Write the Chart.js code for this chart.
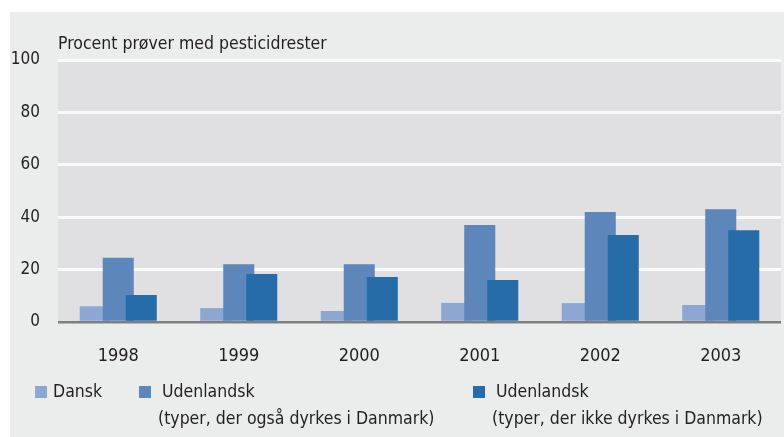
<!DOCTYPE html>
<html>
<head>
<meta charset="utf-8">
<script src="https://cdn.jsdelivr.net/npm/chart.js@4/dist/chart.umd.min.js"></script>
<style>
  body { margin: 0; background: #fff; }
  #wrap { position: relative; width: 784px; height: 437px; font-family: 'Liberation Sans Narrow', 'DejaVu Sans Condensed', sans-serif; color: #231f20; }
  #wrap canvas { position: absolute; left: 0; top: 0; }
  .txt { position: absolute; font-size: 17.5px; line-height: 20px; white-space: nowrap; }
  .sq { position: absolute; width: 12px; height: 12px; }
</style>
</head>
<body>
<div id="wrap">
  <canvas id="chart" width="784" height="437"></canvas>
  <div class="txt" style="left:58px; top:33px;">Procent prøver med pesticidrester</div>

  <div class="sq" style="left:35px; top:386px; background:#8ca7d1;"></div>
  <div class="txt" style="left:53px; top:381px;">Dansk</div>

  <div class="sq" style="left:139px; top:386px; background:#5d87bb;"></div>
  <div class="txt" style="left:162px; top:381px;">Udenlandsk</div>
  <div class="txt" style="left:158px; top:408px;">(typer, der også dyrkes i Danmark)</div>

  <div class="sq" style="left:473px; top:386px; background:#266ca8;"></div>
  <div class="txt" style="left:496px; top:381px;">Udenlandsk</div>
  <div class="txt" style="left:492px; top:408px;">(typer, der ikke dyrkes i Danmark)</div>
</div>
<script>
// data
const years = ['1998', '1999', '2000', '2001', '2002', '2003'];
const dansk = [6, 5.3, 4.2, 7.3, 7.2, 6.5];
const udenlandskOgsaa = [24.5, 22, 22, 37, 42, 43];
const udenlandskIkke = [10.3, 18.3, 17.2, 16, 33.2, 35];

Chart.defaults.font.family = "'Liberation Sans Narrow', 'DejaVu Sans Condensed', sans-serif";
Chart.defaults.font.size = 18;
Chart.defaults.color = '#231f20';

// gray panel + plot background
const panel = {
    id: 'panel',
    beforeDraw(chart) {
        const c = chart.ctx, a = chart.chartArea;
        c.save();
        c.fillStyle = '#ebecec';
        c.fillRect(10, 12, chart.width - 10, chart.height - 12);
        c.fillStyle = '#e0e0e2';
        c.fillRect(a.left, a.top, a.right - a.left, a.bottom - a.top);
        c.restore();
    }
};

// draw datasets left to right so the later (right) bar sits on top
const drawForward = {
    id: 'drawForward',
    beforeDatasetsDraw(chart) {
        chart.getSortedVisibleDatasetMetas().forEach(m => m.controller.draw());
        return false;
    }
};

const barOpts = { categoryPercentage: 0.573, barPercentage: 1.348, borderWidth: 0 };

new Chart(document.getElementById('chart'), {
    type: 'bar',
    data: {
        labels: years,
        datasets: [
            Object.assign({ label: 'Dansk', data: dansk, backgroundColor: '#8ca7d1' }, barOpts),
            Object.assign({ label: 'Udenlandsk (typer, der også dyrkes i Danmark)', data: udenlandskOgsaa, backgroundColor: '#5d87bb' }, barOpts),
            Object.assign({ label: 'Udenlandsk (typer, der ikke dyrkes i Danmark)', data: udenlandskIkke, backgroundColor: '#266ca8' }, barOpts)
        ]
    },
    options: {
        responsive: false,
        animation: false,
        layout: { padding: { left: 10, right: 3, top: 60, bottom: 0 } },
        plugins: { legend: { display: false }, tooltip: { enabled: false } },
        scales: {
            x: {
                grid: { display: false, drawTicks: false },
                border: { display: false },
                ticks: { padding: 24, color: '#231f20', font: { size: 18 } },
                afterFit(scale) { scale.height = 115; }
            },
            y: {
                min: 0,
                max: 100,
                ticks: { stepSize: 20, padding: 18, color: '#231f20', font: { size: 17 } },
                grid: {
                    drawTicks: false,
                    color: ctx => ctx.tick && ctx.tick.value === 0 ? '#7f7f7f' : '#fafafa',
                    lineWidth: ctx => ctx.tick && ctx.tick.value === 0 ? 2.5 : 3
                },
                border: { display: false },
                afterFit(scale) { scale.width = 48; }
            }
        }
    },
    plugins: [panel, drawForward]
});
</script>
</body>
</html>
